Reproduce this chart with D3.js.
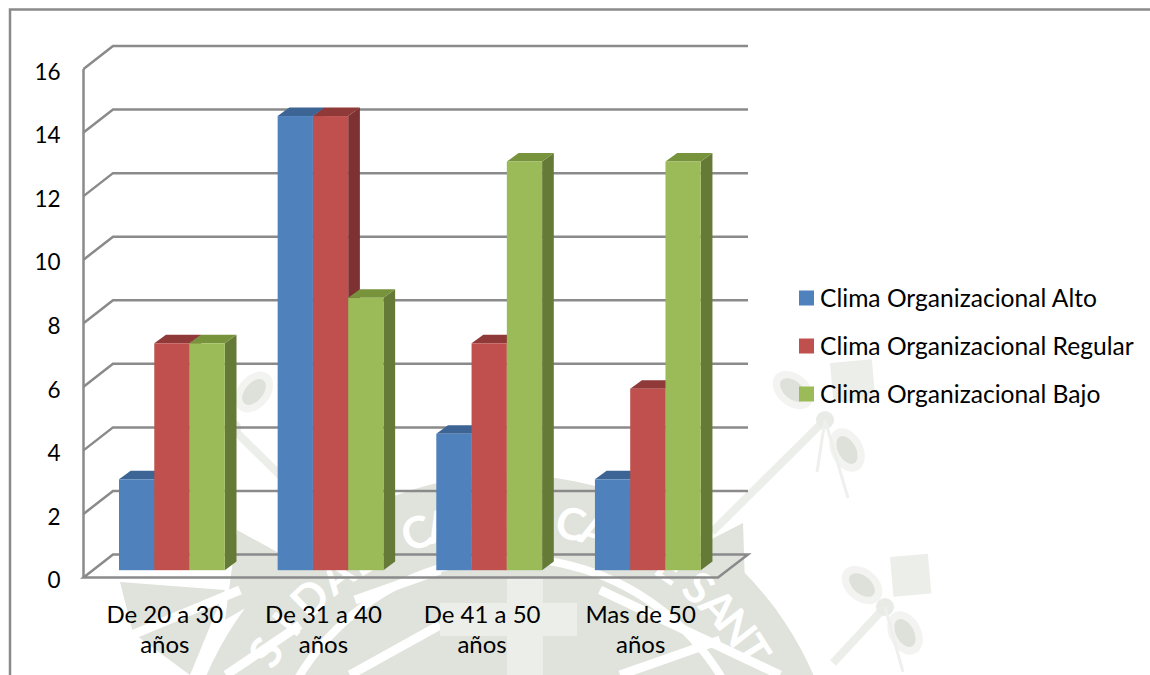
<!DOCTYPE html>
<html>
<head>
<meta charset="utf-8">
<script src="https://cdn.jsdelivr.net/npm/d3@7/dist/d3.min.js"></script>
<style>
  html, body { margin: 0; padding: 0; background: #fff; }
  svg { display: block; }
  text { font-family: Lato, "Noto Sans", sans-serif; fill: #000; }
</style>
</head>
<body>
<svg id="chart" width="1150" height="675"></svg>
<script>
// Chart data
const categories = ["De 20 a 30 años", "De 31 a 40 años", "De 41 a 50 años", "Mas de 50 años"];
const seriesNames = ["Clima Organizacional Alto", "Clima Organizacional Regular", "Clima Organizacional Bajo"];
const alto = [2.86, 14.29, 4.29, 2.86];
const regular = [7.14, 14.29, 7.14, 5.71];
const bajo = [7.14, 8.57, 12.86, 12.86];
const yTicks = [0, 2, 4, 6, 8, 10, 12, 14, 16];

const seriesValues = [alto, regular, bajo];
const faceColors = ["#4f81bd", "#c0504d", "#9bbb59"];
const topColors = ["#3c6494", "#8f3a39", "#77933c"];
const sideColors = ["#335480", "#7d3130", "#667a38"];
const lineColor = "#8a8a8a";

const svg = d3.select("#chart");

// Projection of the 3D box: front plane, wall depth and bar depth
const wall = { dx: 29.5, dy: -23 };
const barFront = { dx: 0, dy: -7.3 };
const barDepth = { dx: 11.7, dy: -8.6 };

const y = d3.scaleLinear().domain([0, 16]).range([577.5, 69]);
const x = d3.scaleBand().domain(categories).range([83.5, 718]);
const xBars = d3.scaleBand().domain(categories).range([95.3, 95.3 + 158.65 * 4]);
const xSeries = d3.scaleBand().domain(d3.range(3)).range([23.7, 23.7 + 105.8]);

// Seal printed faintly behind the chart
function drawSeal(g) {
  const ink = "#dfe3dc";
  const pale = "#eceeea";
  const cx = 510, cy = 805;
  const arc = d3.arc();
  const ring = (r0, r1, fill) => g.append("path")
    .attr("transform", `translate(${cx},${cy})`)
    .attr("d", arc({ innerRadius: r0, outerRadius: r1, startAngle: 0, endAngle: 2 * Math.PI }))
    .attr("fill", fill);

  ring(0, 330, ink);
  ring(243, 251, "#fff");

  // Points of the ribbon reaching out of the disc
  g.append("g").attr("fill", ink).selectAll("path")
    .data(["M237 530 L310 570 L225 620 Z", "M743 523 L700 545 L745 585 Z", "M120 582 L225 590 L190 675 L133 633 Z"])
    .join("path").attr("d", d => d);

  // White rays across the lower part of the seal
  g.append("g").attr("stroke", "#fff").attr("stroke-width", 9).selectAll("line")
    .data([[120, 640, 240, 590], [226, 675, 300, 625], [355, 600, 440, 570], [600, 590, 780, 675], [350, 675, 440, 625], [620, 675, 720, 640]])
    .join("line")
    .attr("x1", d => d[0]).attr("y1", d => d[1]).attr("x2", d => d[2]).attr("y2", d => d[3]);

  // Cross at the centre of the seal
  g.append("rect").attr("x", 507).attr("y", 577).attr("width", 36).attr("height", 98).attr("fill", pale);
  g.append("rect").attr("x", 440).attr("y", 603).attr("width", 137).attr("height", 33).attr("fill", pale);

  // Lettering set one glyph at a time along the ring
  const rad = Math.PI / 180;
  const lettering = (str, startDeg, stepDeg) => {
    str.split("").forEach((ch, i) => {
      if (ch === " ") return;
      const a = startDeg + stepDeg * i;
      const r = 272;
      const px = cx + r * Math.sin(a * rad), py = cy - r * Math.cos(a * rad);
      g.append("text")
        .attr("transform", `translate(${px},${py}) rotate(${a})`)
        .attr("text-anchor", "middle")
        .attr("font-size", 44).attr("font-weight", 700)
        .style("fill", "#fff")
        .text(ch);
    });
  };
  lettering("SIDAD", -58, 7);
  lettering("CATOLICA", -19, 5.2);
  lettering("DE", 28, 6);
  lettering("SANT", 41, 5.5);

  // Dragonfly-like ornaments around the seal
  const orn = [
    { knot: [825, 420], a: [793, 390, 40], b: [847, 450, 62], sq: [830, 363, 42, 40], stem: [712, 532], tails: [[817, 472], [848, 498]] },
    { knot: [885, 607], a: [862, 585, 40], b: [905, 633, 62], sq: [890, 557, 38, 40], stem: [833, 663], tails: [[903, 672]] },
    { knot: [232, 428], a: [254, 392, -50], b: null, sq: null, stem: [300, 495], tails: [] }
  ];
  orn.forEach(o => {
    g.append("line").attr("x1", o.knot[0]).attr("y1", o.knot[1]).attr("x2", o.stem[0]).attr("y2", o.stem[1])
      .attr("stroke", pale).attr("stroke-width", 8);
    [o.a, o.b].filter(Boolean).forEach(e => {
      g.append("ellipse").attr("cx", e[0]).attr("cy", e[1]).attr("rx", 23).attr("ry", 16)
        .attr("transform", `rotate(${e[2]} ${e[0]} ${e[1]})`)
        .attr("fill", "#f3f4f1");
      g.append("ellipse").attr("cx", e[0]).attr("cy", e[1]).attr("rx", 15).attr("ry", 9)
        .attr("transform", `rotate(${e[2]} ${e[0]} ${e[1]})`)
        .attr("fill", "#dde1da");
    });
    if (o.sq) g.append("rect").attr("x", o.sq[0]).attr("y", o.sq[1]).attr("width", o.sq[2]).attr("height", o.sq[3])
      .attr("transform", `rotate(-5 ${o.sq[0]} ${o.sq[1]})`)
      .attr("fill", pale);
    g.append("circle").attr("cx", o.knot[0]).attr("cy", o.knot[1]).attr("r", 9).attr("fill", "#e9ebe7");
    o.tails.forEach(t => g.append("line").attr("x1", o.knot[0]).attr("y1", o.knot[1]).attr("x2", t[0]).attr("y2", t[1])
      .attr("stroke", "#eff0ed").attr("stroke-width", 3));
  });
}
drawSeal(svg.append("g").attr("class", "seal"));

// Outer frame, open on the right and at the bottom
svg.append("path")
  .attr("d", "M10 675 V9.5 H1150")
  .attr("fill", "none").attr("stroke", lineColor).attr("stroke-width", 2.5);

// Walls, gridlines and floor
const walls = svg.append("g").attr("fill", "none").attr("stroke", lineColor).attr("stroke-width", 2.5);
const xL = x.range()[0], xR = x.range()[1];
const backRight = 748;
yTicks.filter(t => t > 0).forEach(t => {
  walls.append("path").attr("d", `M${xL} ${y(t)} L${xL + wall.dx} ${y(t) + wall.dy} H${backRight}`);
});
walls.append("path").attr("d",
  `M${xL} ${y(0)} L${xL + wall.dx} ${y(0) + wall.dy} H${backRight} L${xR} ${y(0)} Z`);
walls.append("path").attr("d", `M${xL} ${y(16)} V${y(0)}`);

// Bars: front, top and side faces, later series covering earlier ones
const bars = svg.append("g");
const bandW = xSeries.bandwidth();
categories.forEach((c, ci) => {
  seriesValues.forEach((vals, si) => {
    const x0 = xBars(c) + xSeries(si);
    const x1 = x0 + bandW;
    const top = y(vals[ci]) + barFront.dy;
    const bottom = y(0) + barFront.dy;
    const dx = barDepth.dx, dy = barDepth.dy;
    bars.append("path").attr("fill", sideColors[si])
      .attr("d", `M${x1} ${top} L${x1 + dx} ${top + dy} V${bottom + dy} L${x1} ${bottom} Z`);
    bars.append("path").attr("fill", topColors[si])
      .attr("d", `M${x0} ${top} L${x0 + dx} ${top + dy} H${x1 + dx} L${x1} ${top} Z`);
    bars.append("rect").attr("fill", faceColors[si])
      .attr("x", x0).attr("y", top).attr("width", bandW).attr("height", bottom - top);
  });
});

// Value axis labels
const yAxis = svg.append("g")
  .attr("transform", "translate(60.5,3)")
  .call(d3.axisLeft(y).tickValues(yTicks).tickSize(0).tickPadding(0));
yAxis.select(".domain").remove();
yAxis.selectAll("text").attr("font-size", 22.5).style("font-family", "Lato");

// Category labels on two lines
const xAxis = svg.append("g")
  .attr("transform", "translate(2,606)")
  .call(d3.axisBottom(x).tickSize(0).tickPadding(0));
xAxis.select(".domain").remove();
xAxis.selectAll("text").each(function (d) {
  const parts = d.split(" ");
  const last = parts.pop();
  const t = d3.select(this).text(null).attr("font-size", 24).style("font-family", "Lato");
  t.append("tspan").attr("x", 0).attr("dy", "0.71em").text(parts.join(" "));
  t.append("tspan").attr("x", 0).attr("dy", 30).text(last);
}).attr("dy", null);

// Legend
const legendY = d3.scalePoint().domain(seriesNames).range([298, 394]);
const legend = svg.append("g").selectAll("g").data(seriesNames).join("g")
  .attr("transform", d => `translate(799,${legendY(d)})`);
legend.append("rect").attr("y", -7.5).attr("width", 15).attr("height", 15)
  .attr("fill", (d, i) => faceColors[i]);
legend.append("text").attr("x", 21).attr("y", 9).attr("font-size", 24.6).text(d => d);
</script>
</body>
</html>
